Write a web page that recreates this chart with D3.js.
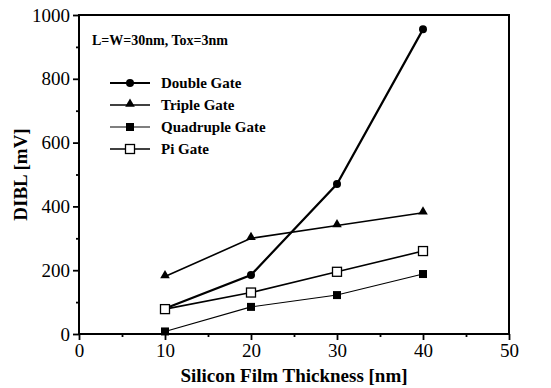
<!DOCTYPE html>
<html>
<head>
<meta charset="utf-8">
<script src="https://cdn.jsdelivr.net/npm/d3@7"></script>
<style>
body { margin: 0; background: #fff; }
</style>
</head>
<body>
<div id="main"></div>
<script>
var outerWidth = 551;
var outerHeight = 388;

var marginLeft = 79;
var marginTop = 15;
var marginRight = 42;
var marginBottom = 54;

var innerWidth = outerWidth - marginLeft - marginRight;
var innerHeight = outerHeight - marginTop - marginBottom;

var serif = "'Liberation Serif', 'Times New Roman', serif";

// data
var thickness = [10, 20, 30, 40];
var seriesNames = ["Double Gate", "Triple Gate", "Quadruple Gate", "Pi Gate"];
var doubleGate = [80, 185, 470, 955];
var tripleGate = [180, 300, 340, 380];
var quadGate = [8, 85, 122, 188];
var piGate = [78, 130, 195, 260];
var xTicks = [0, 10, 20, 30, 40, 50];
var yTicks = [0, 200, 400, 600, 800, 1000];

var series = [
    {name: seriesNames[0], values: doubleGate, marker: "circle", width: 2.2},
    {name: seriesNames[1], values: tripleGate, marker: "triangle", width: 1.6},
    {name: seriesNames[2], values: quadGate, marker: "square", width: 1.1},
    {name: seriesNames[3], values: piGate, marker: "open", width: 1.6}
];

var xScale = d3.scaleLinear().domain([0, 50]).range([0, innerWidth]);
var yScale = d3.scaleLinear().domain([0, 1000]).range([innerHeight, 0]);

var svg = d3.select("#main")
    .append("svg")
    .attr("width", outerWidth)
    .attr("height", outerHeight);

var g = svg.append("g")
    .attr("transform", "translate(" + marginLeft + "," + marginTop + ")");

// minor ticks
var xMinor = d3.axisBottom(xScale).tickValues([5, 15, 25, 35, 45]).tickSize(3).tickFormat("");
var yMinor = d3.axisLeft(yScale).tickValues([100, 300, 500, 700, 900]).tickSize(3).tickFormat("");
g.append("g").attr("transform", "translate(0," + innerHeight + ")").call(xMinor);
g.append("g").call(yMinor);

var xAxis = d3.axisBottom(xScale).tickValues(xTicks).tickSize(6).tickPadding(4).tickFormat(d3.format("d"));
var yAxis = d3.axisLeft(yScale).tickValues(yTicks).tickSize(6).tickPadding(3).tickFormat(d3.format("d"));

var xAxisG = g.append("g")
    .attr("transform", "translate(0," + innerHeight + ")")
    .call(xAxis);
var yAxisG = g.append("g").call(yAxis);

g.selectAll(".domain").remove();
g.selectAll(".tick line").attr("stroke", "#000").attr("stroke-width", 1.8);
g.selectAll(".tick text")
    .attr("fill", "#000")
    .style("font-family", serif)
    .style("font-size", "19px");

// frame
g.append("rect")
    .attr("width", innerWidth)
    .attr("height", innerHeight)
    .attr("fill", "none")
    .attr("stroke", "#000")
    .attr("stroke-width", 2);

// axis labels
g.append("text")
    .attr("x", innerWidth / 2)
    .attr("y", innerHeight + 48)
    .attr("text-anchor", "middle")
    .style("font-family", serif)
    .style("font-size", "19px")
    .style("font-weight", "bold")
    .text("Silicon Film Thickness [nm]");

g.append("text")
    .attr("transform", "translate(-52," + (innerHeight / 2) + ") rotate(-90)")
    .attr("text-anchor", "middle")
    .style("font-family", serif)
    .style("font-size", "19px")
    .style("font-weight", "bold")
    .text("DIBL [mV]");

g.append("text")
    .attr("x", 13)
    .attr("y", 30)
    .style("font-family", serif)
    .style("font-size", "14px")
    .style("font-weight", "bold")
    .text("L=W=30nm, Tox=3nm");

function drawMarker(sel, type, x, y) {
    if (type == "circle") {
        sel.append("circle").attr("cx", x).attr("cy", y).attr("r", 4).attr("fill", "#000");
    } else if (type == "triangle") {
        sel.append("path")
            .attr("d", d3.symbol().type(d3.symbolTriangle).size(40)())
            .attr("transform", "translate(" + x + "," + (y - 1) + ")")
            .attr("fill", "#000");
    } else if (type == "square") {
        sel.append("rect").attr("x", x - 4).attr("y", y - 4).attr("width", 8).attr("height", 8).attr("fill", "#000");
    } else {
        sel.append("rect").attr("x", x - 4.5).attr("y", y - 4.5).attr("width", 9).attr("height", 9)
            .attr("fill", "#fff").attr("stroke", "#000").attr("stroke-width", 1.3);
    }
}

var line = d3.line()
    .x((d, i) => xScale(thickness[i]))
    .y(d => yScale(d));

series.forEach(function(s) {
    g.append("path")
        .attr("d", line(s.values))
        .attr("fill", "none")
        .attr("stroke", "#000")
        .attr("stroke-width", s.width);
});
series.forEach(function(s) {
    s.values.forEach(function(v, i) {
        drawMarker(g, s.marker, xScale(thickness[i]), yScale(v));
    });
});

// legend
var legend = g.append("g").attr("transform", "translate(31,68)");
series.forEach(function(s, i) {
    var row = legend.append("g").attr("transform", "translate(0," + (i * 22) + ")");
    row.append("line").attr("x1", 0).attr("x2", 40).attr("y1", 0).attr("y2", 0)
        .attr("stroke", "#000").attr("stroke-width", s.width);
    drawMarker(row, s.marker, 20, 0);
    row.append("text")
        .attr("x", 51)
        .attr("y", 5)
        .style("font-family", serif)
        .style("font-size", "15px")
        .style("font-weight", "bold")
        .text(s.name);
});
</script>
</body>
</html>
